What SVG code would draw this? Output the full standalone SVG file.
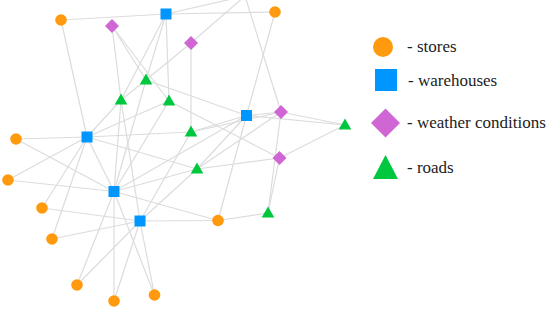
<svg xmlns="http://www.w3.org/2000/svg" width="550" height="311" viewBox="0 0 550 311">
<style>
.e{stroke:#dcdcdc;stroke-width:1.2;fill:none}
.s{fill:#ff9a0e}
.w{fill:#0096ff}
.d{fill:#d066d3}
.r{fill:#00c83e}
.t{font-family:"Liberation Serif","Times New Roman",serif;font-size:17px;fill:#222}
</style>
<defs>
<circle id="sc" r="5.8"/>
<rect id="sq" x="-5.5" y="-5.5" width="11" height="11"/>
<polygon id="dm" points="0,-7 7,0 0,7 -7,0"/>
<polygon id="tr" points="0,-6.5 6.3,4.5 -6.3,4.5"/>
</defs>
<rect width="550" height="311" fill="#fff"/>
<g id="connectors" class="e">
<line x1="61" y1="20" x2="166" y2="14"/>
<line x1="61" y1="20" x2="87" y2="137"/>
<line x1="275" y1="12" x2="166" y2="14"/>
<line x1="275" y1="12" x2="246.5" y2="115.5"/>
<line x1="245" y1="-4" x2="166" y2="14"/>
<line x1="245" y1="-4" x2="191" y2="43"/>
<line x1="245" y1="-4" x2="281" y2="112"/>
<line x1="112" y1="26" x2="121" y2="100"/>
<line x1="112" y1="26" x2="146" y2="80"/>
<line x1="112" y1="26" x2="169" y2="101"/>
<line x1="166" y1="14" x2="121" y2="100"/>
<line x1="166" y1="14" x2="146" y2="80"/>
<line x1="166" y1="14" x2="169" y2="101"/>
<line x1="191" y1="43" x2="146" y2="80"/>
<line x1="191" y1="43" x2="191" y2="132"/>
<line x1="146" y1="80" x2="121" y2="100"/>
<line x1="146" y1="80" x2="114" y2="191.5"/>
<line x1="146" y1="80" x2="246.5" y2="115.5"/>
<line x1="87" y1="137" x2="121" y2="100"/>
<line x1="87" y1="137" x2="169" y2="101"/>
<line x1="87" y1="137" x2="191" y2="132"/>
<line x1="87" y1="137" x2="197" y2="169"/>
<line x1="87" y1="137" x2="16" y2="139"/>
<line x1="87" y1="137" x2="8" y2="180"/>
<line x1="87" y1="137" x2="42" y2="208"/>
<line x1="87" y1="137" x2="52" y2="239"/>
<line x1="87" y1="137" x2="114" y2="191.5"/>
<line x1="16" y1="139" x2="114" y2="191.5"/>
<line x1="8" y1="180" x2="114" y2="191.5"/>
<line x1="121" y1="100" x2="114" y2="191.5"/>
<line x1="121" y1="100" x2="140" y2="221"/>
<line x1="169" y1="101" x2="114" y2="191.5"/>
<line x1="169" y1="101" x2="279.5" y2="158"/>
<line x1="191" y1="132" x2="246.5" y2="115.5"/>
<line x1="191" y1="132" x2="281" y2="112"/>
<line x1="191" y1="132" x2="140" y2="221"/>
<line x1="197" y1="169" x2="246.5" y2="115.5"/>
<line x1="197" y1="169" x2="281" y2="112"/>
<line x1="197" y1="169" x2="279.5" y2="158"/>
<line x1="197" y1="169" x2="114" y2="191.5"/>
<line x1="197" y1="169" x2="140" y2="221"/>
<line x1="246.5" y1="115.5" x2="281" y2="112"/>
<line x1="246.5" y1="115.5" x2="345" y2="125"/>
<line x1="246.5" y1="115.5" x2="218" y2="220.5"/>
<line x1="246.5" y1="115.5" x2="114" y2="191.5"/>
<line x1="281" y1="112" x2="345" y2="125"/>
<line x1="281" y1="112" x2="268" y2="213"/>
<line x1="279.5" y1="158" x2="345" y2="125"/>
<line x1="279.5" y1="158" x2="268" y2="213"/>
<line x1="218" y1="220.5" x2="114" y2="191.5"/>
<line x1="218" y1="220.5" x2="140" y2="221"/>
<line x1="218" y1="220.5" x2="268" y2="213"/>
<line x1="114" y1="191.5" x2="77" y2="285"/>
<line x1="114" y1="191.5" x2="114" y2="301"/>
<line x1="114" y1="191.5" x2="154.5" y2="295"/>
<line x1="140" y1="221" x2="42" y2="208"/>
<line x1="140" y1="221" x2="52" y2="239"/>
<line x1="140" y1="221" x2="77" y2="285"/>
<line x1="140" y1="221" x2="114" y2="301"/>
<line x1="140" y1="221" x2="154.5" y2="295"/>
</g>
<g id="store-1" class="s"><use href="#sc" x="61" y="20"/></g>
<g id="store-2" class="s"><use href="#sc" x="275" y="12"/></g>
<g id="store-3" class="s"><use href="#sc" x="16" y="139"/></g>
<g id="store-4" class="s"><use href="#sc" x="8" y="180"/></g>
<g id="store-5" class="s"><use href="#sc" x="42" y="208"/></g>
<g id="store-6" class="s"><use href="#sc" x="52" y="239"/></g>
<g id="store-7" class="s"><use href="#sc" x="77" y="285"/></g>
<g id="store-8" class="s"><use href="#sc" x="114" y="301"/></g>
<g id="store-9" class="s"><use href="#sc" x="154.5" y="295"/></g>
<g id="store-10" class="s"><use href="#sc" x="218" y="220.5"/></g>
<g id="warehouse-1" class="w"><use href="#sq" x="166" y="14"/></g>
<g id="warehouse-2" class="w"><use href="#sq" x="87" y="137"/></g>
<g id="warehouse-3" class="w"><use href="#sq" x="246.5" y="115.5"/></g>
<g id="warehouse-4" class="w"><use href="#sq" x="114" y="191.5"/></g>
<g id="warehouse-5" class="w"><use href="#sq" x="140" y="221"/></g>
<g id="weather-1" class="d"><use href="#dm" x="112" y="26"/></g>
<g id="weather-2" class="d"><use href="#dm" x="191" y="43"/></g>
<g id="weather-3" class="d"><use href="#dm" x="281" y="112"/></g>
<g id="weather-4" class="d"><use href="#dm" x="279.5" y="158"/></g>
<g id="road-1" class="r"><use href="#tr" x="146" y="80"/></g>
<g id="road-2" class="r"><use href="#tr" x="121" y="100"/></g>
<g id="road-3" class="r"><use href="#tr" x="169" y="101"/></g>
<g id="road-4" class="r"><use href="#tr" x="191" y="132"/></g>
<g id="road-5" class="r"><use href="#tr" x="197" y="169"/></g>
<g id="road-6" class="r"><use href="#tr" x="268" y="213"/></g>
<g id="road-7" class="r"><use href="#tr" x="345" y="125"/></g>
<g id="legend">
<circle class="s" cx="383" cy="47" r="10"/>
<text class="t" x="407" y="52">- stores</text>
<rect class="w" x="375" y="69" width="22" height="22"/>
<text class="t" x="408" y="86">- warehouses</text>
<polygon class="d" points="385.5,108.5 400,123 385.5,137.5 371,123"/>
<text class="t" x="407" y="128">- weather conditions</text>
<polygon class="r" points="385.5,155 398,179 373,179"/>
<text class="t" x="407" y="173">- roads</text>
</g>
</svg>
